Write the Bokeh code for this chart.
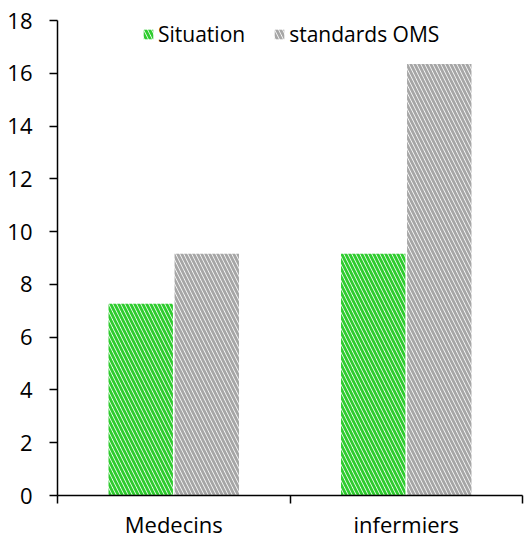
from bokeh.plotting import figure
from bokeh.models import ColumnDataSource, Range1d, FixedTicker, Legend, LegendItem
from bokeh.transform import dodge
from bokeh.embed import file_html
from bokeh.resources import INLINE

categories = ["Medecins", "infermiers"]
situation = [7.27, 9.16]
standards_oms = [9.16, 16.35]
y_ticks = [0, 2, 4, 6, 8, 10, 12, 14, 16, 18]

xpos = [i + 0.5 for i in range(len(categories))]
src = ColumnDataSource(dict(x=xpos, situation=situation, oms=standards_oms))

FONT = "Open Sans"

p = figure(width=524, height=541, output_backend="svg", toolbar_location=None,
           x_range=Range1d(0, len(categories)), y_range=Range1d(0, 18),
           min_border_left=57, min_border_right=2, min_border_top=20, min_border_bottom=10)
p.outline_line_color = None
p.xgrid.visible = False
p.ygrid.visible = False
p.background_fill_color = "white"

bw = 0.277
r1 = p.vbar(x=dodge("x", -0.142, range=p.x_range), top="situation", width=bw, source=src,
            fill_color="white", line_color=None,
            hatch_pattern="left_diagonal_line", hatch_color="#2ECC2E",
            hatch_scale=8, hatch_weight=2.8)
r2 = p.vbar(x=dodge("x", 0.142, range=p.x_range), top="oms", width=bw, source=src,
            fill_color="white", line_color=None,
            hatch_pattern="left_diagonal_line", hatch_color="#A6A6A6",
            hatch_scale=8, hatch_weight=2.8)

# axes
xa = p.xaxis[0]
xa.ticker = FixedTicker(ticks=xpos, minor_ticks=[0, 1, 2])
xa.major_label_overrides = {x: c for x, c in zip(xpos, categories)}
xa.major_tick_out = 0
xa.major_tick_in = 0
xa.minor_tick_out = 8
xa.minor_tick_in = 0
xa.minor_tick_line_color = "black"
xa.minor_tick_line_width = 1.5
xa.axis_line_color = "black"
xa.axis_line_width = 1.5
xa.major_label_standoff = 5
xa.major_label_text_font = FONT
xa.major_label_text_font_size = "22px"
xa.major_label_text_color = "black"

ya = p.yaxis[0]
ya.ticker = FixedTicker(ticks=y_ticks, minor_ticks=[])
ya.major_tick_out = 8
ya.major_tick_in = 0
ya.major_tick_line_color = "black"
ya.major_tick_line_width = 1.5
ya.axis_line_color = "black"
ya.axis_line_width = 1.5
ya.major_label_standoff = 17
ya.major_label_text_font = FONT
ya.major_label_text_font_size = "22px"
ya.major_label_text_color = "black"

legend = Legend(items=[LegendItem(label="Situation", renderers=[r1]),
                       LegendItem(label="standards OMS", renderers=[r2])],
                orientation="horizontal", location=(85, 446),
                padding=0, margin=0, spacing=28, label_standoff=4,
                glyph_width=12, glyph_height=12, label_height=30,
                border_line_alpha=0, background_fill_alpha=0,
                label_text_font=FONT, label_text_font_size="21px", label_text_color="black")
p.add_layout(legend, "center")

open("out.html", "w").write(file_html(p, INLINE))
